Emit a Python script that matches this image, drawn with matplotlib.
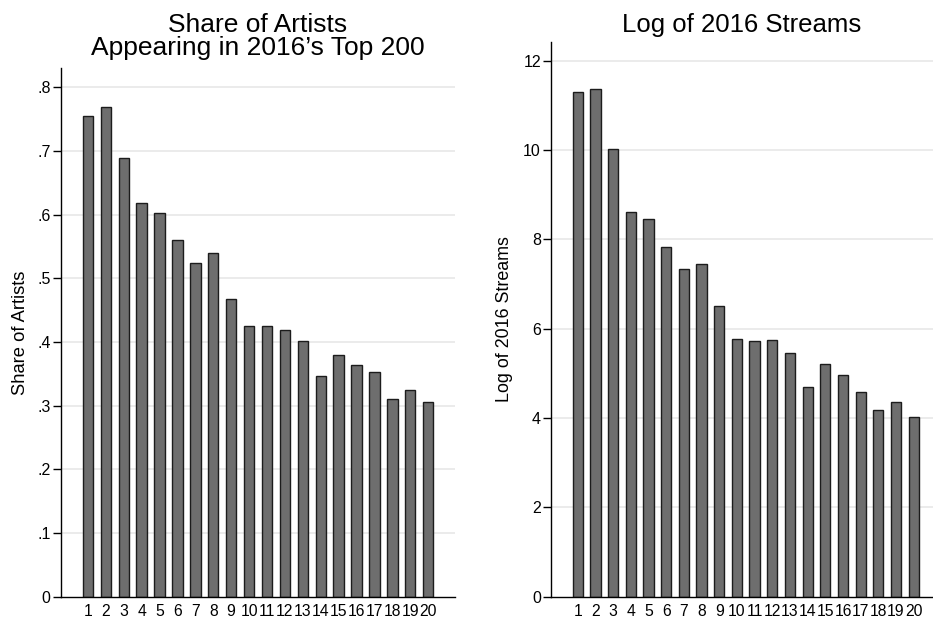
import matplotlib.pyplot as plt
from matplotlib.ticker import FuncFormatter

# ranks 1..20
ranks = list(range(1, 21))

# share of artists appearing in the 2016 top 200, by rank
share_artists = [0.754, 0.769, 0.689, 0.618, 0.603, 0.560, 0.524, 0.539, 0.468, 0.425,
                 0.425, 0.419, 0.402, 0.347, 0.380, 0.364, 0.352, 0.311, 0.324, 0.305]

# log of 2016 streams, by rank
log_streams = [11.30, 11.38, 10.02, 8.62, 8.45, 7.84, 7.33, 7.44, 6.52, 5.77,
               5.73, 5.75, 5.46, 4.69, 5.21, 4.97, 4.59, 4.18, 4.36, 4.02]

share_ticks = [0, 0.1, 0.2, 0.3, 0.4, 0.5, 0.6, 0.7, 0.8]
log_ticks = [0, 2, 4, 6, 8, 10, 12]

plt.rcParams['font.family'] = ['Liberation Sans', 'DejaVu Sans']

BAR_FC = '#6e6e6e'
BAR_EC = '#1c1c1c'
GRID_C = '#e6e6e6'

fig = plt.figure(figsize=(9.33, 6.21), dpi=100)
ax1 = fig.add_axes([0.0654, 0.0391, 0.4223, 0.8514])
ax2 = fig.add_axes([0.5909, 0.0391, 0.4091, 0.8938])


def style_axis(ax, ticks, ylim, xlim, fmt):
    ax.set_ylim(*ylim)
    ax.set_xlim(*xlim)
    ax.set_yticks(ticks)
    ax.yaxis.set_major_formatter(FuncFormatter(fmt))
    ax.set_xticks(ranks)
    ax.set_xticklabels([str(r) for r in ranks])
    for t in ticks[1:]:
        ax.axhline(t, color=GRID_C, lw=1.1, zorder=0)
    ax.spines['top'].set_visible(False)
    ax.spines['right'].set_visible(False)
    ax.spines['left'].set_linewidth(1.0)
    ax.spines['bottom'].set_linewidth(1.0)
    ax.tick_params(axis='y', length=6, width=1.0, pad=1.5, labelsize=11.5)
    ax.tick_params(axis='x', length=0, pad=5, labelsize=11.3)


def share_fmt(v, pos):
    if abs(v) < 1e-9:
        return '0'
    return ('%.1f' % v).lstrip('0')


ax1.bar(ranks, share_artists, width=0.58, color=BAR_FC, edgecolor=BAR_EC,
        linewidth=1.0, zorder=2)
style_axis(ax1, share_ticks, (0, 0.83), (-0.5, 21.5), share_fmt)
ax1.set_ylabel('Share of Artists', fontsize=13.2, labelpad=6)

ax2.bar(ranks, log_streams, width=0.58, color=BAR_FC, edgecolor=BAR_EC,
        linewidth=1.0, zorder=2)
style_axis(ax2, log_ticks, (0, 12.43), (-0.5, 21.09), lambda v, p: '%d' % v)
ax2.set_ylabel('Log of 2016 Streams', fontsize=12.9, labelpad=7)

# titles
fig.text(258 / 933, 1 - 32 / 621, 'Share of Artists', ha='center',
         va='baseline', fontsize=19)
fig.text(258 / 933, 1 - 55 / 621, 'Appearing in 2016\u2019s Top 200', ha='center',
         va='baseline', fontsize=19)
fig.text(742 / 933, 1 - 32 / 621, 'Log of 2016 Streams', ha='center',
         va='baseline', fontsize=18.5)

fig.savefig('out.png', dpi=100, facecolor='white')
